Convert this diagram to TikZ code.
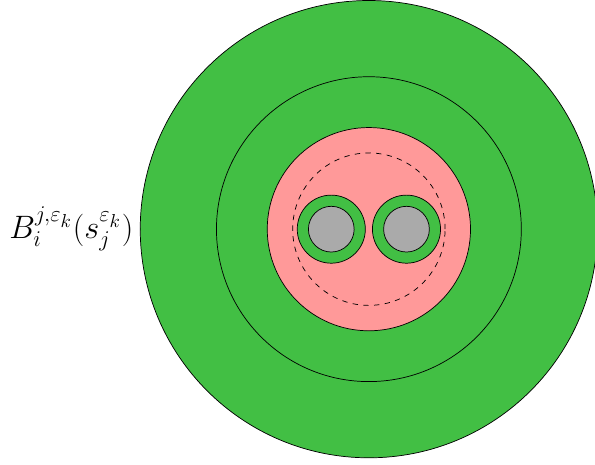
\documentclass[tikz,border=0pt]{standalone}
\usepackage{xcolor}
\usepackage{amsmath}
\usepackage{amssymb}
\usetikzlibrary{positioning}
\definecolor{ringgreen}{RGB}{66,191,68}
\definecolor{corepink}{RGB}{255,153,153}
\definecolor{wiregray}{RGB}{170,170,170}

\begin{document}
\begin{tikzpicture}
  \useasboundingbox (-7.26,-4.63) rectangle (4.45,4.51);
  \clip (-7.26,-4.63) rectangle (4.45,4.51);

  % Outer shells
  \draw[fill=ringgreen, draw=black] (0,0) circle (4.5);
  \draw[fill=ringgreen, draw=black] (0,0) circle (3);

  % Core
  \draw[fill=corepink, draw=black] (0,0) circle (2);
  \draw[dashed, draw=black] (0,0) circle (1.5);

  % Left wire
  \draw[fill=ringgreen, draw=black] (-0.74,0) circle (0.67);
  \draw[fill=wiregray, draw=black] (-0.74,0) circle (0.45);

  % Right wire
  \draw[fill=ringgreen, draw=black] (0.74,0) circle (0.67);
  \draw[fill=wiregray, draw=black] (0.74,0) circle (0.45);

  % Label
  \coordinate (rim) at (-4.5,0);
  \node[anchor=east, inner sep=3.5pt, scale=1.05] (ballname) at (rim) {\LARGE $B_i^{j,\varepsilon_k}(s_j^{\varepsilon_k})$};
\end{tikzpicture}
\end{document}
